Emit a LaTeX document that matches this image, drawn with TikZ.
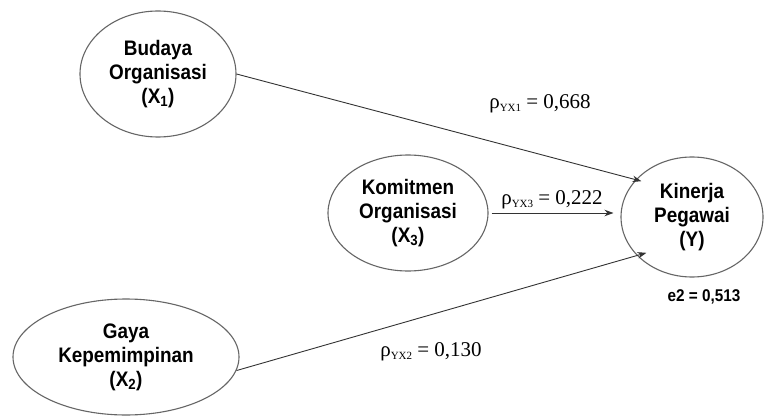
\documentclass[tikz,border=0pt]{standalone}
\usepackage{fontspec}
\setmainfont{Liberation Serif}
\newfontfamily\nodefont[FakeStretch=0.9]{Liberation Sans}
\usepackage{tikz}
\usetikzlibrary{shapes.geometric,arrows.meta}

\tikzset{
  var/.style={ellipse, draw=black!60, line width=1.1pt, inner sep=0pt,
    align=center, font={\nodefont\bfseries\fontsize{21}{24}\selectfont}},
  pathline/.style={-{Stealth[length=9pt,width=6.5pt]}, draw=black!80, line width=0.9pt},
  coef/.style={inner sep=0pt, font={\fontsize{21}{21}\selectfont}}
}
\newcommand{\pyx}[1]{ρ\raisebox{-3pt}{\fontsize{11}{11}\selectfont YX#1}}

\begin{document}
\begin{tikzpicture}[x=1pt,y=-1pt]
    \useasboundingbox[fill=white] (0,0) rectangle (765,417);
    % exogenous variables
    \node[var, minimum width=156pt, minimum height=126pt] (budaya) at (158,74)
      {Budaya\\Organisasi\\(X\textsubscript{1})};
    \node[var, minimum width=160pt, minimum height=116pt] (komitmen) at (408,213)
      {Komitmen\\Organisasi\\(X\textsubscript{3})};
    \node[var, minimum width=226pt, minimum height=116pt] (gaya) at (126,357)
      {Gaya\\Kepemimpinan\\(X\textsubscript{2})};
    % endogenous variable
    \node[var, minimum width=142pt, minimum height=120pt] (kinerja) at (692,217)
      {Kinerja\\Pegawai\\(Y)};
    \node[inner sep=0pt, font={\nodefont\bfseries\fontsize{17}{17}\selectfont}] (error)
      at (704,297) {e2 = 0,513};
    % paths
    \draw[pathline] (budaya.east) -- ([yshift=-7pt]kinerja.north west);
    \draw[pathline] ([xshift=3pt]komitmen.east) -- ([xshift=-7pt]komitmen.east -| kinerja.west);
    \draw[pathline] (gaya.-7) -- ([xshift=5pt,yshift=7pt]kinerja.south west);
    % path coefficients
    \node[coef] (c1) at (540,104) {\pyx{1} = 0,668};
    \node[coef] (c3) at (552,200) {\pyx{3} = 0,222};
    \node[coef] (c2) at (431,352) {\pyx{2} = 0,130};
  \end{tikzpicture}
\end{document}
